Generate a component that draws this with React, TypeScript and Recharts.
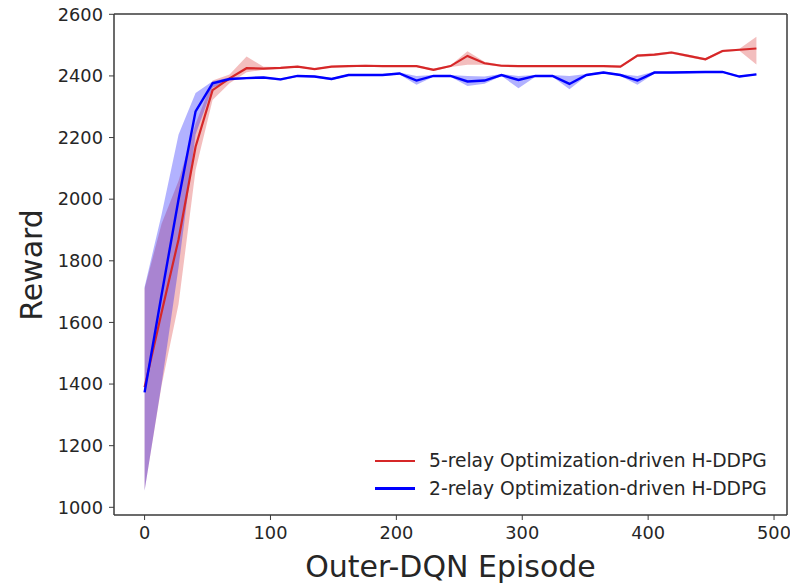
import React from 'react';
import {
  ComposedChart,
  Line,
  Area,
  XAxis,
  YAxis,
  Label,
  ReferenceLine,
} from 'recharts';

// episodes sampled along the outer DQN loop
const episodes = [
  0, 13.5, 27, 40.5, 54, 67.5, 81, 94.5, 108, 121.5, 135, 148.5, 162, 175.5, 189, 202.5,
  216, 229.5, 243, 256.5, 270, 283.5, 297, 310.5, 324, 337.5, 351, 364.5, 378, 391.5,
  405, 418.5, 432, 445.5, 459, 472.5, 486,
];

const relay5Mean = [
  1390, 1632, 1870, 2170, 2354, 2392, 2425, 2424, 2426, 2430, 2422, 2430, 2432, 2433, 2432, 2432,
  2432, 2420, 2432, 2465, 2441, 2433, 2432, 2432, 2432, 2432, 2432, 2432, 2430, 2466,
  2469, 2476, 2465, 2454, 2481, 2485, 2489,
];
const relay5Low = [
  1055, 1395, 1660, 2095, 2322, 2376, 2412, 2420, 2423, 2427, 2419, 2427, 2429, 2430, 2429, 2429,
  2429, 2416, 2429, 2436, 2436, 2430, 2429, 2429, 2429, 2429, 2429, 2429, 2427, 2462,
  2465, 2472, 2461, 2450, 2477, 2482, 2437,
];
const relay5High = [
  1710, 1920, 2060, 2245, 2385, 2405, 2463, 2430, 2429, 2433, 2425, 2433, 2435, 2436, 2435, 2435,
  2435, 2424, 2435, 2480, 2446, 2436, 2435, 2435, 2435, 2435, 2435, 2435, 2433, 2470,
  2473, 2480, 2469, 2458, 2485, 2488, 2527,
];

const relay2Mean = [
  1373, 1690, 2000, 2285, 2376, 2390, 2393, 2395, 2389, 2400, 2398, 2390, 2403, 2403, 2403, 2408,
  2385, 2400, 2400, 2382, 2385, 2403, 2387, 2400, 2400, 2374, 2403, 2411, 2403, 2385,
  2411, 2411, 2412, 2413, 2413, 2398, 2405,
];
const relay2Low = [
  1054, 1400, 1780, 2210, 2362, 2385, 2390, 2392, 2384, 2397, 2395, 2386, 2400, 2400, 2400, 2405,
  2371, 2397, 2397, 2367, 2375, 2400, 2360, 2397, 2397, 2357, 2400, 2408, 2400, 2371,
  2408, 2408, 2409, 2410, 2410, 2395, 2402,
];
const relay2High = [
  1715, 1950, 2210, 2345, 2383, 2395, 2396, 2398, 2392, 2403, 2401, 2393, 2406, 2406, 2406, 2411,
  2400, 2403, 2403, 2400, 2398, 2406, 2400, 2403, 2403, 2400, 2406, 2414, 2406, 2400,
  2414, 2414, 2415, 2416, 2416, 2401, 2408,
];

const xTicks = [0, 100, 200, 300, 400, 500];
const yTicks = [1000, 1200, 1400, 1600, 1800, 2000, 2200, 2400, 2600];

const seriesNames = [
  '5-relay Optimization-driven H-DDPG',
  '2-relay Optimization-driven H-DDPG',
];

const X_DOMAIN = [-24.3, 510.3];
const Y_DOMAIN = [975, 2601];

const RED = '#d62728';
const BLUE = '#0000ff';
const FONT = '"DejaVu Sans", sans-serif';
const TEXT = '#262626';
const SPINE = '#3a3a3a';

const data = episodes.map((ep, i) => ({
  ep,
  red: relay5Mean[i],
  blue: relay2Mean[i],
  redBand: [relay5Low[i], relay5High[i]],
  blueBand: [relay2Low[i], relay2High[i]],
}));

const tickStyle = { fontSize: 17.8, fill: TEXT, fontFamily: FONT };

function Legendbox() {
  const colors = [RED, BLUE];
  return (
    <div style={{ position: 'absolute', left: 375, top: 447, fontFamily: FONT, fontSize: 18.7, color: TEXT }}>
      {seriesNames.map((name, i) => (
        <div key={name} style={{ display: 'flex', alignItems: 'center', height: 27.6 }}>
          <span style={{ display: 'inline-block', width: 40, height: 2.5, background: colors[i], marginRight: 14 }} />
          <span style={{ whiteSpace: 'nowrap' }}>{name}</span>
        </div>
      ))}
    </div>
  );
}

export default function App() {
  return (
    <div style={{ position: 'absolute', left: 0, top: 0, width: 790, height: 583, background: '#fff' }}>
      <ComposedChart
        width={790}
        height={583}
        data={data}
        margin={{ top: 14, right: 3, bottom: 0, left: 0 }}
      >
        <XAxis
          dataKey="ep"
          type="number"
          domain={X_DOMAIN}
          allowDataOverflow
          ticks={xTicks}
          height={68}
          tick={tickStyle}
          tickSize={5}
          tickMargin={6}
          tickLine={{ stroke: SPINE }}
          axisLine={{ stroke: SPINE, strokeWidth: 1.5 }}
        >
          <Label value="Outer-DQN Episode" position="insideBottom" offset={6}
            style={{ fontSize: 30, fill: TEXT, fontFamily: FONT }} />
        </XAxis>
        <YAxis
          type="number"
          domain={Y_DOMAIN}
          allowDataOverflow
          ticks={yTicks}
          width={114}
          tick={tickStyle}
          tickSize={5}
          tickMargin={6}
          tickLine={{ stroke: SPINE }}
          axisLine={{ stroke: SPINE, strokeWidth: 1.5 }}
        >
          <Label
            content={() => (
              <text x={31} y={265} transform="rotate(-90 31 265)" textAnchor="middle"
                dominantBaseline="central" style={{ fontSize: 30, fill: TEXT, fontFamily: FONT }}>
                Reward
              </text>
            )}
          />
        </YAxis>
        {/* top and right spines */}
        <ReferenceLine y={Y_DOMAIN[1]} stroke={SPINE} strokeWidth={1.5} ifOverflow="visible" />
        <ReferenceLine x={X_DOMAIN[1]} stroke={SPINE} strokeWidth={1.5} ifOverflow="visible" />
        <Area type="linear" dataKey="redBand" stroke="none" fill={RED} fillOpacity={0.3}
          isAnimationActive={false} activeDot={false} />
        <Area type="linear" dataKey="blueBand" stroke="none" fill={BLUE} fillOpacity={0.3}
          isAnimationActive={false} activeDot={false} />
        <Line type="linear" dataKey="red" stroke={RED} strokeWidth={2.2} dot={false}
          isAnimationActive={false} activeDot={false} />
        <Line type="linear" dataKey="blue" stroke={BLUE} strokeWidth={2.4} dot={false}
          isAnimationActive={false} activeDot={false} />
      </ComposedChart>
      <Legendbox />
    </div>
  );
}
